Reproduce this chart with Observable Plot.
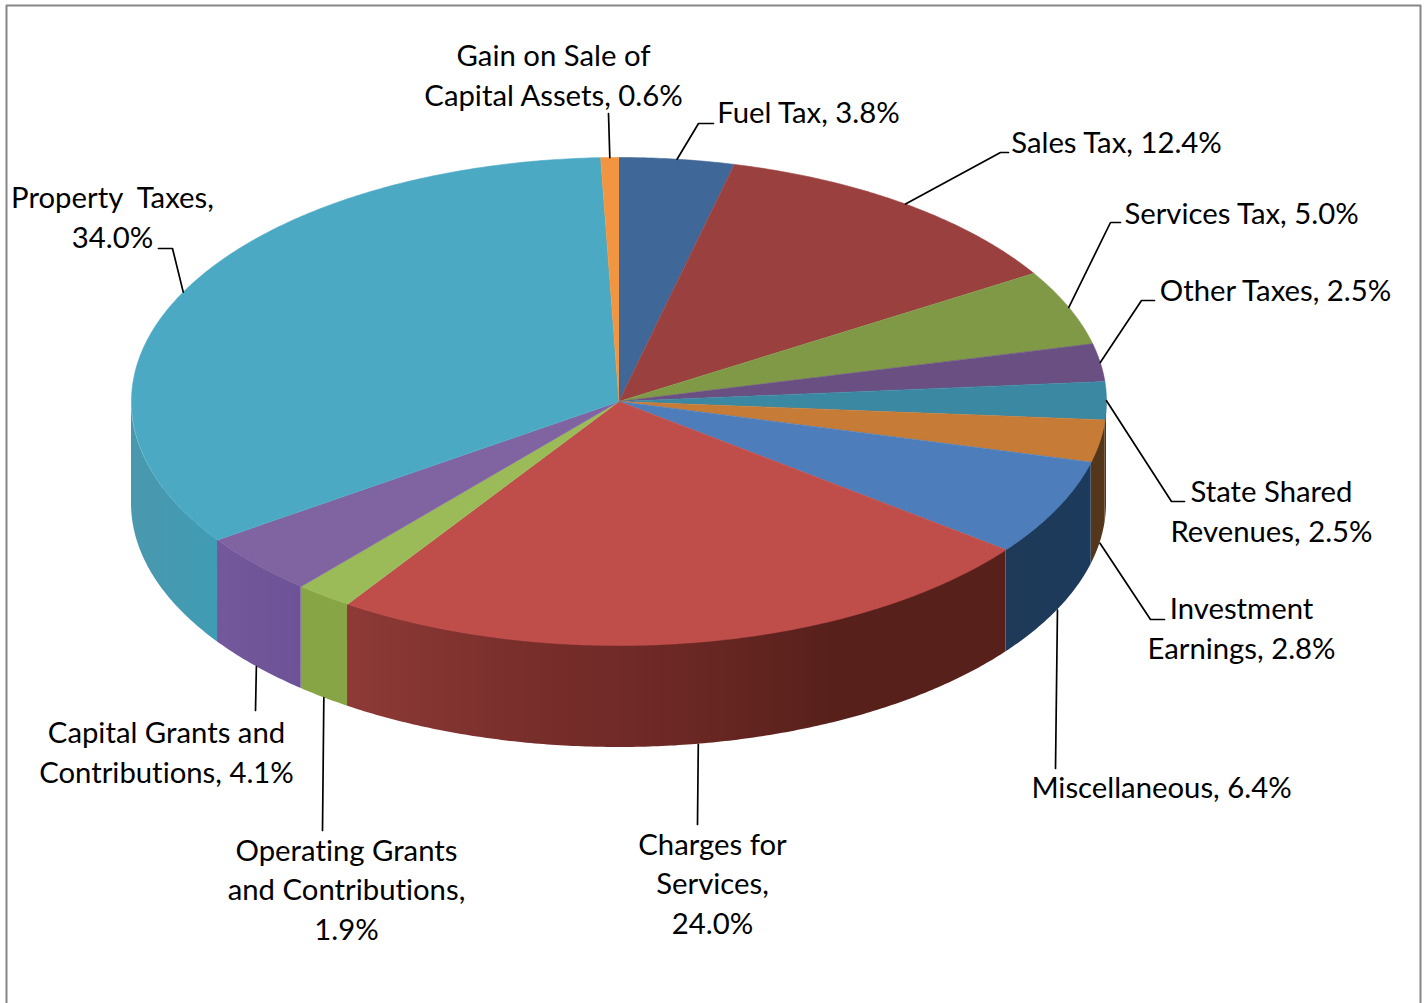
<!DOCTYPE html>
<html>
<head>
<meta charset="utf-8">
<title>Revenue sources</title>
<style>
  html, body { margin: 0; padding: 0; background: #fff; }
  svg { display: block; }
  svg text { font-variant-ligatures: none; font-kerning: normal; }
</style>
<script src="https://cdn.jsdelivr.net/npm/d3@7"></script>
<script src="https://cdn.jsdelivr.net/npm/@observablehq/plot@0.6"></script>
</head>
<body>
<div id="chart"></div>
<script>
// Revenue shares, clockwise from twelve o'clock
const categories = ["Fuel Tax", "Sales Tax", "Services Tax", "Other Taxes", "State Shared Revenues",
  "Investment Earnings", "Miscellaneous", "Charges for Services", "Operating Grants and Contributions",
  "Capital Grants and Contributions", "Property Taxes", "Gain on Sale of Capital Assets"];
const shares = [3.8, 12.4, 5.0, 2.5, 2.5, 2.8, 6.4, 24.0, 1.9, 4.1, 34.0, 0.6];
const topColors = ["#3f6797", "#9a403e", "#7f9947", "#6a4f82", "#3a88a2", "#c67b36",
  "#4d7ebb", "#bf4d4a", "#9bbb59", "#8064a2", "#4ba9c4", "#f29540"];

// Rim shading, each list running from the slice's right end to its left end
const rimStops = [
  ["#2c4a6e", "#2c4a6e"], ["#6c2c2a", "#6c2c2a"], ["#5a6e34", "#5a6e34"], ["#4c3a5e", "#4c3a5e"],
  ["#54361a", "#54361a"], ["#54361a", "#54361a"],
  ["#1c3a5c", "#1f3a58"],
  ["#57201a", "#57201a", "#6c2825", "#7a2f2c", "#8e3a36"],
  ["#88a546", "#88a546"], ["#6c5296", "#74589c"],
  ["#3f9cb4", "#4a98ae"], ["#b06a2e", "#b06a2e"]
];

// Label text, one entry per line
const labelLines = [
  ["Fuel Tax, 3.8%"], ["Sales Tax, 12.4%"], ["Services Tax, 5.0%"], ["Other Taxes, 2.5%"],
  ["State Shared", "Revenues, 2.5%"], ["Investment", "Earnings, 2.8%"], ["Miscellaneous, 6.4%"],
  ["Charges for", "Services,", "24.0%"], ["Operating Grants", "and Contributions,", "1.9%"],
  ["Capital Grants and", "Contributions, 4.1%"], ["Property  Taxes,", "34.0%"],
  ["Gain on Sale of", "Capital Assets, 0.6%"]
];
const labelX = [808, 1116, 1241, 1275, 1271, 1241, 1161, 712, 346, 166, 112, 553];
const labelY = [110, 140, 211, 288, 509, 626, 785, 881, 887, 750, 215, 73];

// Leader paths beyond the point where each one meets its slice
const leaderBends = [
  [[698, 123], [713, 123]], [[1000, 152], [1008, 152]], [[1110, 222], [1120, 222]],
  [[1141, 300], [1154, 300]], [[1171, 501], [1184, 501]], [[1150, 619], [1164, 619]],
  [[1055, 768]], [[697, 824]], [[322, 830]], [[255, 710]],
  [[172, 248], [158, 248]], [[608, 113]]
];

// Tilted-disc geometry, in chart units
const cx = 618.5, cy = 401, rx = 487.5, ry = 244, depth = 102;
const W = 1428, H = 1003;
const angleStep = 0.5;

const rimPoint = deg => {
  const a = deg * Math.PI / 180;
  return {x: cx + rx * Math.sin(a), y: cy - ry * Math.cos(a)};
};

// Each slice's start and end angle, from the running total of shares
const total = d3.sum(shares);
let running = 0;
const slices = categories.map((name, i) => {
  const start = running / total * 360;
  running += shares[i];
  return {name, i, start, end: running / total * 360, color: topColors[i]};
});

const arcPoints = (a, b) => {
  const n = Math.max(2, Math.ceil((b - a) / angleStep));
  return d3.range(n + 1).map(k => rimPoint(a + (b - a) * k / n));
};

// The near half of the disc shows its rim
const rimPieces = slices
  .map(s => ({...s, a: Math.max(s.start, 90), b: Math.min(s.end, 270)}))
  .filter(s => s.b > s.a);

const gradients = () => {
  const defs = d3.create("svg:defs");
  rimPieces.forEach(s => {
    const stops = rimStops[s.i];
    const g = defs.append("linearGradient").attr("id", `rim-${s.i}`)
      .attr("x1", 1).attr("x2", 0).attr("y1", 0).attr("y2", 0);
    stops.forEach((c, k) => g.append("stop")
      .attr("offset", k / (stops.length - 1)).attr("stop-color", c));
  });
  return defs.node();
};

const rimMarks = rimPieces.map(s => Plot.areaY(arcPoints(s.a, s.b), {
  x: "x",
  y1: "y",
  y2: d => d.y + depth,
  fill: `url(#rim-${s.i})`
}));

const topMarks = slices.map(s => Plot.line(
  [{x: cx, y: cy}, ...arcPoints(s.start, s.end)],
  {x: "x", y: "y", fill: s.color, stroke: s.color, strokeWidth: 0.6, strokeLinejoin: "round"}
));

// Leaders start at the slice's outer edge, at its middle angle; front slices hang from the rim's lower edge
const leaderRows = slices.flatMap(s => {
  const mid = (s.start + s.end) / 2;
  const p = rimPoint(mid);
  const anchor = mid > 90 && mid < 270 ? {x: p.x, y: p.y + depth} : p;
  return [anchor, ...leaderBends[s.i].map(([x, y]) => ({x, y}))].map(q => ({...q, name: s.name}));
});

const labels = categories.map((name, i) => ({
  text: labelLines[i].join("\n"), x: labelX[i], y: labelY[i]
}));

const chartFrame = [{x: 6, y: H}, {x: 6, y: 5}, {x: 1420, y: 5}, {x: 1420, y: H}];

const fontSize = 29.3;
const plot = Plot.plot({
  width: W,
  height: H,
  margin: 0,
  style: {background: "#fff", fontFamily: "Lato, 'Open Sans', sans-serif"},
  x: {domain: [0, W], range: [0, W], axis: null},
  y: {domain: [0, H], range: [0, H], axis: null},
  marks: [
    gradients,
    Plot.line(chartFrame, {x: "x", y: "y", stroke: "#868686", strokeWidth: 2}),
    ...rimMarks,
    ...topMarks,
    Plot.line(leaderRows, {x: "x", y: "y", z: "name", stroke: "#000", strokeWidth: 1.7}),
    Plot.text(labels, {
      x: "x", y: "y", text: "text",
      fontSize, lineHeight: 39.5 / fontSize, fill: "#000", textAnchor: "middle"
    })
  ]
});
document.getElementById("chart").append(plot);
</script>
</body>
</html>
